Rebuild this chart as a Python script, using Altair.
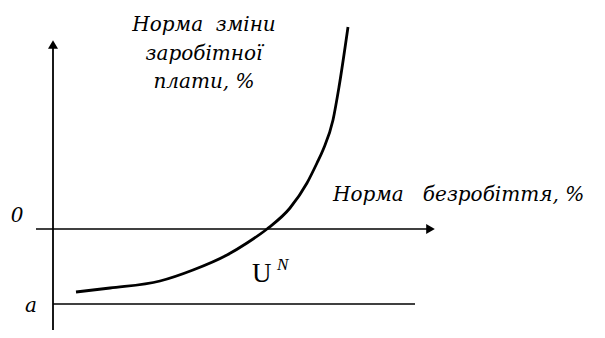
import altair as alt
import pandas as pd

# Phillips curve (schematic): unemployment rate vs. wage change rate
curve_u = [2.3, 5.7, 10.7, 14.0, 17.4, 19.4, 21.4, 23.7, 25.4, 26.4, 27.0, 28.0, 28.6, 29.5]
curve_w = [-6.3, -5.9, -5.2, -4.1, -2.6, -1.4, 0.0, 2.1, 4.6, 6.6, 7.9, 10.9, 14.2, 20.2]

# guide lines: vertical axis, zero line (horizontal axis), level "a"
seg_name = ["y_axis", "x_axis", "a_line"]
seg_x1 = [0.0, -1.7, 0.0]
seg_x2 = [0.0, 37.4, 36.2]
seg_y1 = [-10.9, 0.0, -7.5]
seg_y2 = [18.1, 0.0, -7.5]
seg_w = [1.8, 1.5, 1.3]

# arrow heads
arrow_x = [0.0, 37.75]
arrow_y = [18.45, 0.0]
arrow_shape = ["triangle-up", "triangle-right"]

# labels
lab_text = ["Норма\u00a0\u00a0зміни", "заробітної", "плати, %",
            "Норма\u00a0\u00a0\u00a0безробіття, %", "0", "a"]
lab_x = [15.1, 15.1, 15.1, 28.0, -3.6, -2.2]
lab_y = [19.8, 16.9, 14.1, 2.8, 0.7, -8.3]
lab_align = ["center", "center", "center", "left", "center", "center"]

X_DOM = [-4.5, 54.4]
Y_DOM = [-10.1, 22.1]
FONT = "DejaVu Serif"
FONT_U = "Liberation Serif"

xs = alt.Scale(domain=X_DOM, nice=False, zero=False)
ys = alt.Scale(domain=Y_DOM, nice=False, zero=False)

curve_df = pd.DataFrame({"u": curve_u, "w": curve_w})
seg_df = pd.DataFrame({"name": seg_name, "x1": seg_x1, "x2": seg_x2,
                       "y1": seg_y1, "y2": seg_y2, "sw": seg_w})
arrow_df = pd.DataFrame({"x": arrow_x, "y": arrow_y, "shape": arrow_shape})
lab_df = pd.DataFrame({"t": lab_text, "x": lab_x, "y": lab_y, "al": lab_align})

segs = alt.Chart(seg_df).mark_rule(color="black", clip=False).encode(
    x=alt.X("x1:Q", scale=xs, axis=None),
    x2="x2:Q",
    y=alt.Y("y1:Q", scale=ys, axis=None),
    y2="y2:Q",
    strokeWidth=alt.StrokeWidth("sw:Q", scale=None, legend=None),
)

curve = alt.Chart(curve_df).mark_line(
    color="black", strokeWidth=2.8, interpolate="monotone", clip=False
).encode(
    x=alt.X("u:Q", scale=xs, axis=None),
    y=alt.Y("w:Q", scale=ys, axis=None),
)

arrows = alt.Chart(arrow_df).mark_point(
    filled=True, color="black", size=100, opacity=1
).encode(
    x=alt.X("x:Q", scale=xs, axis=None),
    y=alt.Y("y:Q", scale=ys, axis=None),
    shape=alt.Shape("shape:N", scale=None, legend=None),
)

labels_c = alt.Chart(lab_df[lab_df.al == "center"]).mark_text(
    font=FONT, fontSize=20, fontStyle="italic", color="black",
    align="center", baseline="alphabetic"
).encode(
    x=alt.X("x:Q", scale=xs, axis=None),
    y=alt.Y("y:Q", scale=ys, axis=None),
    text="t:N",
)

labels_l = alt.Chart(lab_df[lab_df.al == "left"]).mark_text(
    font=FONT, fontSize=20, fontStyle="italic", color="black",
    align="left", baseline="alphabetic"
).encode(
    x=alt.X("x:Q", scale=xs, axis=None),
    y=alt.Y("y:Q", scale=ys, axis=None),
    text="t:N",
)

un_df = pd.DataFrame({"t": ["U"], "x": [19.9], "y": [-5.3]})
un_sup = pd.DataFrame({"t": ["N"], "x": [22.4], "y": [-4.1]})

u_main = alt.Chart(un_df).mark_text(
    font=FONT_U, fontSize=27, color="black", align="left", baseline="alphabetic"
).encode(
    x=alt.X("x:Q", scale=xs, axis=None),
    y=alt.Y("y:Q", scale=ys, axis=None),
    text="t:N",
)
u_sup = alt.Chart(un_sup).mark_text(
    font=FONT_U, fontSize=17, fontStyle="italic", color="black",
    align="left", baseline="alphabetic"
).encode(
    x=alt.X("x:Q", scale=xs, axis=None),
    y=alt.Y("y:Q", scale=ys, axis=None),
    text="t:N",
)

chart = alt.layer(segs, curve, arrows, labels_c, labels_l, u_main, u_sup).properties(
    width=589, height=322,
    autosize=alt.AutoSizeParams(type="none"),
    padding=0,
    background="white",
).configure_view(stroke=None)

chart.save("out.html", embed_options={"renderer": "svg", "actions": False})
